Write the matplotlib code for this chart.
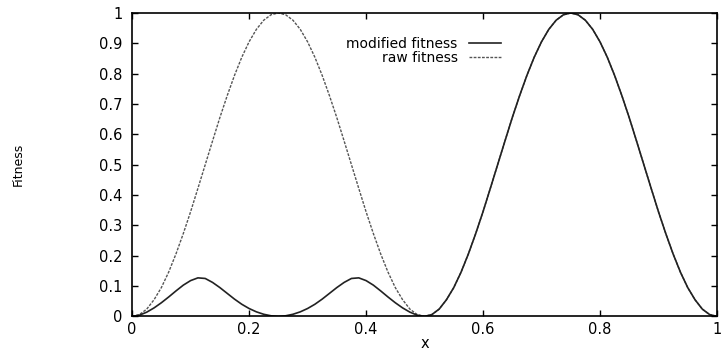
import numpy as np
import matplotlib
matplotlib.use("Agg")
import matplotlib.pyplot as plt

plt.rcParams['font.family'] = ['DejaVu Sans']

# x samples, every 0.0125 on [0, 0.5]; the curves on [0.5, 1] repeat raw fitness
x_half = [0.0, 0.0125, 0.025, 0.0375, 0.05, 0.0625, 0.075, 0.0875, 0.1, 0.1125,
          0.125, 0.1375, 0.15, 0.1625, 0.175, 0.1875, 0.2, 0.2125, 0.225, 0.2375,
          0.25, 0.2625, 0.275, 0.2875, 0.3, 0.3125, 0.325, 0.3375, 0.35, 0.3625,
          0.375, 0.3875, 0.4, 0.4125, 0.425, 0.4375, 0.45, 0.4625, 0.475, 0.4875,
          0.5]
x_right = [0.5, 0.5125, 0.525, 0.5375, 0.55, 0.5625, 0.575, 0.5875, 0.6, 0.6125,
           0.625, 0.6375, 0.65, 0.6625, 0.675, 0.6875, 0.7, 0.7125, 0.725, 0.7375,
           0.75, 0.7625, 0.775, 0.7875, 0.8, 0.8125, 0.825, 0.8375, 0.85, 0.8625,
           0.875, 0.8875, 0.9, 0.9125, 0.925, 0.9375, 0.95, 0.9625, 0.975, 0.9875,
           1.0]

# raw fitness
raw_half = [0.0, 0.006, 0.024, 0.055, 0.095, 0.146, 0.206, 0.273, 0.345, 0.422,
            0.5, 0.578, 0.655, 0.727, 0.794, 0.854, 0.905, 0.946, 0.976, 0.994,
            1.0, 0.994, 0.976, 0.946, 0.905, 0.854, 0.794, 0.727, 0.655, 0.578,
            0.5, 0.422, 0.345, 0.273, 0.206, 0.146, 0.095, 0.055, 0.024, 0.006,
            0.0]
raw_right = [0.0, 0.006, 0.024, 0.055, 0.095, 0.146, 0.206, 0.273, 0.345, 0.422,
             0.5, 0.578, 0.655, 0.727, 0.794, 0.854, 0.905, 0.946, 0.976, 0.994,
             1.0, 0.994, 0.976, 0.946, 0.905, 0.854, 0.794, 0.727, 0.655, 0.578,
             0.5, 0.422, 0.345, 0.273, 0.206, 0.146, 0.095, 0.055, 0.024, 0.006,
             0.0]

# modified fitness on the left half (the two small bumps)
mod_half = [0.0, 0.004, 0.014, 0.028, 0.045, 0.064, 0.084, 0.103, 0.118, 0.127,
            0.125, 0.112, 0.095, 0.076, 0.057, 0.040, 0.026, 0.015, 0.007, 0.002,
            0.0, 0.002, 0.007, 0.015, 0.026, 0.040, 0.057, 0.076, 0.095, 0.112,
            0.125, 0.127, 0.118, 0.103, 0.084, 0.064, 0.045, 0.028, 0.014, 0.004,
            0.0]

x_all = x_half + x_right[1:]
raw_all = raw_half + raw_right[1:]
mod_all = mod_half + raw_right[1:]

fig = plt.figure(figsize=(7.22, 3.5), dpi=100)
ax = fig.add_axes([0.183, 0.096, 0.810, 0.867])

ax.plot(x_all, raw_all, color='#555555', linewidth=1.0, linestyle=(0, (2, 1)),
        label='raw fitness')
ax.plot(x_all, mod_all, color='#222222', linewidth=1.2, label='modified fitness')

ax.set_xlim(0, 1)
ax.set_ylim(0, 1)
ax.set_xticks([0, 0.2, 0.4, 0.6, 0.8, 1])
ax.set_xticklabels(['0', '0.2', '0.4', '0.6', '0.8', '1'])
ax.set_yticks([0, 0.1, 0.2, 0.3, 0.4, 0.5, 0.6, 0.7, 0.8, 0.9, 1])
ax.set_yticklabels(['0', '0.1', '0.2', '0.3', '0.4', '0.5', '0.6', '0.7', '0.8', '0.9', '1'])
ax.tick_params(direction='in', top=True, right=True, length=4, width=1,
               labelsize=10.5)
ax.tick_params(axis='x', pad=4)
ax.tick_params(axis='y', pad=7)
for s in ax.spines.values():
    s.set_linewidth(1.2)

ax.set_xlabel('x', fontsize=10.5, labelpad=-1)
fig.text(0.025, 0.531, 'Fitness', rotation=90, fontsize=9, ha='center', va='center')

# gnuplot style key: text first, sample line on the right
handles, labels = ax.get_legend_handles_labels()
ax.legend(handles[::-1], labels[::-1], loc='upper right', bbox_to_anchor=(0.642, 0.945),
          frameon=False, markerfirst=False, fontsize=10, handlelength=2.3,
          handletextpad=0.8, labelspacing=0.0, borderpad=0)

fig.savefig('out.png', dpi=100)
